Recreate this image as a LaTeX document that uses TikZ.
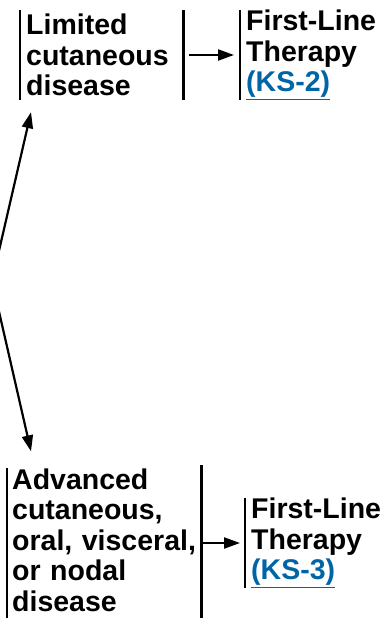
\documentclass[tikz,border=0pt]{standalone}
\usepackage{fontspec}
\setmainfont{Liberation Sans}
\usetikzlibrary{positioning, arrows.meta}
\definecolor{linkblue}{RGB}{0,101,166}
\newcommand{\kslink}[1]{\textcolor{linkblue}{\underline{#1}}}

\begin{document}
\begin{tikzpicture}[x=1pt, y=-1pt,
    stage/.style={rectangle, draw=none, align=left, anchor=west, inner xsep=6pt, inner ysep=0pt, font=\bfseries\fontsize{28.5}{30.5}\selectfont},
    bar/.style={line width=2.2pt},
    arrow/.style={-{Triangle[length=16pt, width=11pt]}, line width=2.2pt}
    ]
    \useasboundingbox (0,0) rectangle (385,618);

    % Stages
    \node[stage, text width=151pt, minimum height=90pt] (Limited) at (20,55) {Limited\\cutaneous\\disease};
    \node[stage, text width=135pt, minimum height=90pt] (TherapyA) at (240,55) {First-Line\\Therapy\\\kslink{(KS-2)}};
    \node[stage, text width=184pt, inner xsep=5pt, minimum height=136pt] (Advanced) at (7,540) {Advanced\\cutaneous,\\oral, visceral,\\or nodal\\disease};
    \node[stage, text width=135pt, minimum height=90pt] (TherapyB) at (245,543) {First-Line\\Therapy\\\kslink{(KS-3)}};

    % Side bars
    \draw[bar] (Limited.north west) -- (Limited.south west);
    \draw[bar] (Limited.north east) -- (Limited.south east);
    \draw[bar] (TherapyA.north west) -- (TherapyA.south west);
    \draw[bar, shorten >=-12pt] (Advanced.north west) -- (Advanced.south west);
    \draw[bar, shorten >=-12pt, shorten <=-3pt] (Advanced.north east) -- (Advanced.south east);
    \draw[bar] (TherapyB.north west) -- (TherapyB.south west);

    % Connections
    \coordinate (Origin) at (-8,281);
    \draw[arrow] (Origin) -- ([xshift=11pt, yshift=-12pt]Limited.south west);
    \draw[arrow] (Origin) -- ([xshift=24pt, yshift=17pt]Advanced.north west);
    \draw[arrow, shorten <=6pt, shorten >=6pt] (Limited.east |- TherapyA.west) -- (TherapyA.west);
    \draw[arrow, shorten >=5pt] (Advanced.east |- TherapyB.west) -- (TherapyB.west);

\end{tikzpicture}
\end{document}
